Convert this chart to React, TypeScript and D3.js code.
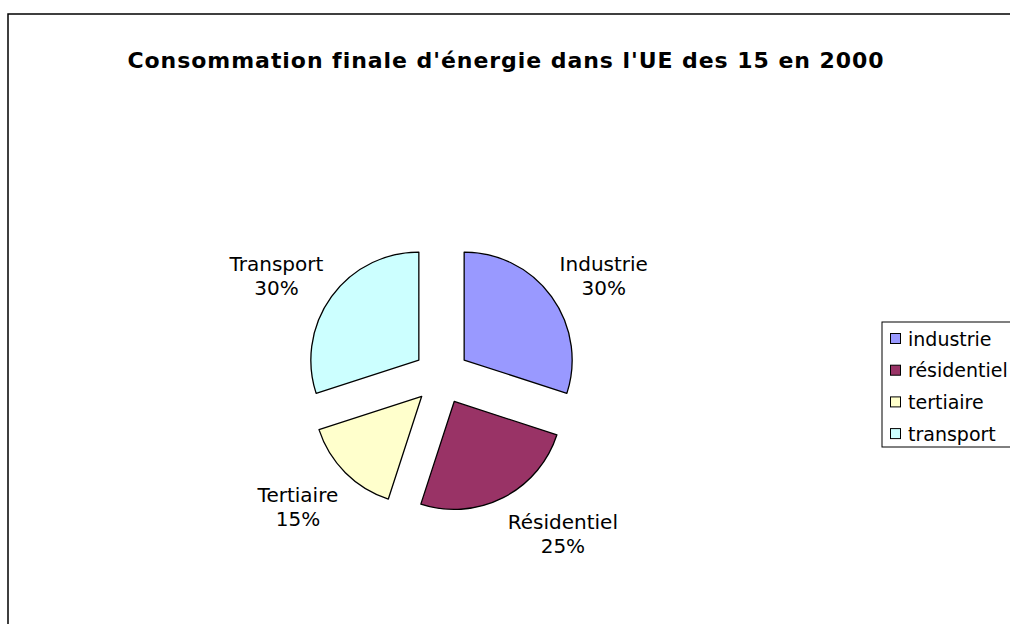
import React from "react";
import * as d3 from "d3";

const categories = ["Industrie", "Résidentiel", "Tertiaire", "Transport"];
const legendLabels = ["industrie", "résidentiel", "tertiaire", "transport"];
const values = [30, 25, 15, 30];
const colors = ["#9999FF", "#993366", "#FFFFCC", "#CCFFFF"];
const title = "Consommation finale d'énergie dans l'UE des 15 en 2000";

const W = 1010;
const H = 624;
const FONT = "'DejaVu Sans', Verdana, sans-serif";

function measure(text: string, font: string): number {
  const c = document.createElement("canvas").getContext("2d");
  if (!c) return text.length * 10;
  c.font = font;
  return c.measureText(text).width;
}

export default function App() {
  const cx = 441.5;
  const cy = 376.5;
  const R = 108;
  const explode = 28;
  const labelGap = 10;
  const labelDy = 7;
  const labelFontSize = 20;
  const lineH = 24;

  const total = d3.sum(values);
  const pie = d3.pie<number>().sort(null).startAngle(0).endAngle(2 * Math.PI);
  const arcs = pie(values);
  const arcGen = d3.arc<d3.PieArcDatum<number>>().innerRadius(0).outerRadius(R);

  const legendX = 882;
  const legendY = 322;
  const legendH = 125;
  const legendStep = 31.7;

  return (
    <svg
      width={W}
      height={H}
      style={{ position: "absolute", left: 0, top: 0, background: "#fff" }}
      fontFamily={FONT}
    >
      <rect x={8} y={14} width={W + 20} height={H + 20} fill="#fff" stroke="#000" strokeWidth={1.5} />
      <text x={506} y={68} textAnchor="middle" fontSize={22} fontWeight="bold" letterSpacing={0.95} fill="#000">
        {title}
      </text>
      {arcs.map((a, i) => {
        const mid = (a.startAngle + a.endAngle) / 2;
        const ux = Math.sin(mid);
        const uy = -Math.cos(mid);
        const tx = cx + explode * ux;
        const ty = cy + explode * uy;
        return (
          <path
            key={"s" + i}
            d={arcGen(a) || ""}
            transform={`translate(${tx},${ty})`}
            fill={colors[i]}
            stroke="#000"
            strokeWidth={1.3}
            strokeLinejoin="round"
          />
        );
      })}
      {arcs.map((a, i) => {
        const mid = (a.startAngle + a.endAngle) / 2;
        const ux = Math.sin(mid);
        const uy = -Math.cos(mid);
        const dist = R + explode + labelGap;
        const px = cx + dist * ux;
        const py = cy + dist * uy + labelDy;
        const pct = Math.round((values[i] / total) * 100) + "%";
        const font = `${labelFontSize}px ${FONT}`;
        const w = Math.max(measure(categories[i], font), measure(pct, font));
        const h = 42;
        const left = ux >= 0 ? px : px - w;
        const top = uy >= 0 ? py : py - h;
        const mx = left + w / 2;
        return (
          <text key={"l" + i} textAnchor="middle" fontSize={labelFontSize} fill="#000">
            <tspan x={mx} y={top + 15}>{categories[i]}</tspan>
            <tspan x={mx} y={top + 15 + lineH}>{pct}</tspan>
          </text>
        );
      })}
      <rect x={legendX} y={legendY} width={200} height={legendH} fill="#fff" stroke="#000" strokeWidth={1} />
      {legendLabels.map((l, i) => {
        const yc = legendY + 17 + i * legendStep;
        return (
          <g key={"g" + i}>
            <rect x={890.5} y={yc - 5.5} width={10} height={10} fill={colors[i]} stroke="#000" strokeWidth={1} />
            <text x={908} y={yc + 6.5} fontSize={19} fill="#000">
              {l}
            </text>
          </g>
        );
      })}
    </svg>
  );
}
